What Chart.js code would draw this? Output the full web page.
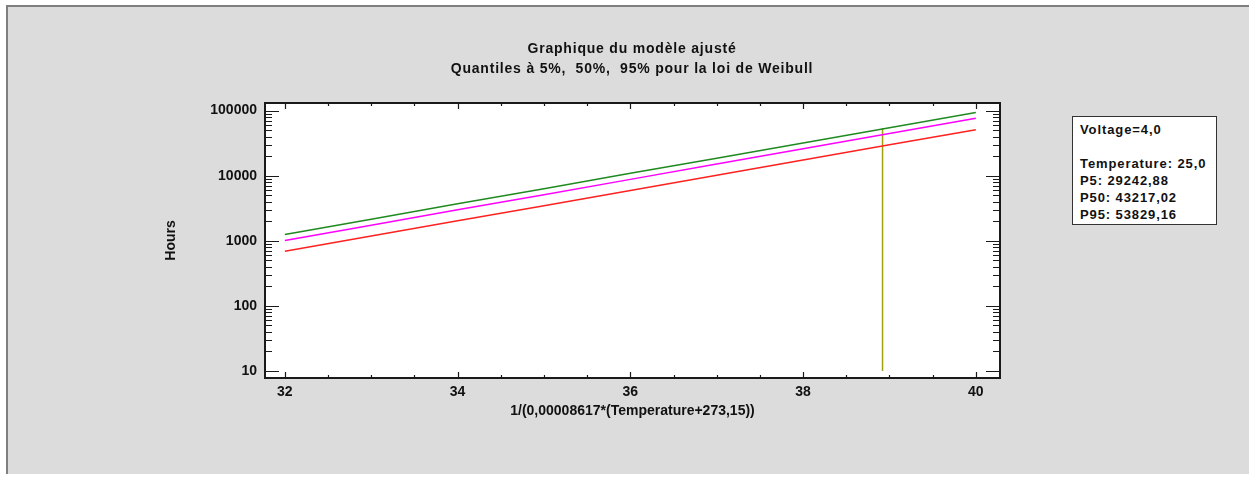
<!DOCTYPE html>
<html>
<head>
<meta charset="utf-8">
<title>Graphique du modèle ajusté</title>
<script src="https://cdn.jsdelivr.net/npm/chart.js"></script>
<style>
	body { margin: 0; background: #fff; width: 1249px; height: 477px; overflow: hidden; font-family: "Liberation Sans", Arial, sans-serif; color: #111; }
	#panel { position: absolute; left: 6px; top: 5px; width: 1243px; height: 469px; background: #dcdcdc; border-top: 2px solid #7f7f7f; border-left: 2px solid #7f7f7f; box-sizing: border-box; }
	#chartc { position: absolute; left: 0; top: 0; }
	.title { position: absolute; left: 332px; width: 600px; text-align: center; font-weight: bold; font-size: 14px; letter-spacing: 0.8px; line-height: 20px; }
	#info { position: absolute; left: 1072px; top: 116px; width: 145px; height: 109px; box-sizing: border-box; border: 1px solid #333; background: #fff; font-weight: bold; font-size: 13px; letter-spacing: 0.9px; }
	#info div { position: absolute; left: 7px; line-height: 17px; white-space: nowrap; }
</style>
</head>
<body>
<div id="panel"></div>
<canvas id="chartc" width="1249" height="477"></canvas>
<div class="title" style="top:38px">Graphique du modèle ajusté</div>
<div class="title" style="top:58px">Quantiles à 5%,&nbsp; 50%,&nbsp; 95% pour la loi de Weibull</div>
<div id="info">
	<div style="top:4px">Voltage=4,0</div>
	<div style="top:38px">Temperature: 25,0</div>
	<div style="top:55px">P5: 29242,88</div>
	<div style="top:72px">P50: 43217,02</div>
	<div style="top:89px">P95: 53829,16</div>
</div>
<script>
// Data

var xValues = [32, 33, 34, 35, 36, 37, 38, 39, 40];
var p95Values = [1250, 2150, 3700, 6300, 10900, 18600, 31900, 54700, 93500];
var p50Values = [1010, 1740, 2990, 5120, 8790, 15100, 25900, 44500, 76400];
var p5Values = [690, 1190, 2030, 3470, 5940, 10200, 17400, 29850, 51000];

var xTickValues = [32, 34, 36, 38, 40];
var yTickValues = [10, 100, 1000, 10000, 100000];

// vertical marker at Temperature = 25,0
var markerX = 38.92;
var markerY = [10, 53829.16];

function points(xs, ys) {
	return xs.map(function(v, i) { return {x: v, y: ys[i]}; });
}

// white plot area, frame and inward ticks
var frameTicks = {
	id: 'frameTicks',
	beforeDraw: function(chart) {
		var a = chart.chartArea, ctx = chart.ctx;
		ctx.save();
		ctx.fillStyle = '#fff';
		ctx.fillRect(a.left, a.top, a.right - a.left, a.bottom - a.top);
		ctx.restore();
	},
	afterDraw: function(chart) {
		var a = chart.chartArea, ctx = chart.ctx;
		var x = chart.scales.x, y = chart.scales.y;
		ctx.save();
		ctx.strokeStyle = '#1a1a1a';
		ctx.lineWidth = 1.2;
		ctx.beginPath();
		// x ticks, major every 2, minor every 0.5
		for (var v = xTickValues[0]; v <= xTickValues[xTickValues.length - 1]; v += 0.5) {
			var px = Math.round(x.getPixelForValue(v)) + 0.5;
			var len = (v % 2 === 0) ? 6 : 3;
			ctx.moveTo(px, a.bottom); ctx.lineTo(px, a.bottom - len);
			ctx.moveTo(px, a.top); ctx.lineTo(px, a.top + len);
		}
		// y ticks, decades and 2..9 minors
		yTickValues.forEach(function(d, i) {
			var py = Math.round(y.getPixelForValue(d)) + 0.5;
			ctx.moveTo(a.left, py); ctx.lineTo(a.left + 14, py);
			ctx.moveTo(a.right, py); ctx.lineTo(a.right - 14, py);
			if (i < yTickValues.length - 1) {
				for (var m = 2; m <= 9; m++) {
					var q = Math.round(y.getPixelForValue(m * d)) + 0.5;
					ctx.moveTo(a.left, q); ctx.lineTo(a.left + 7, q);
					ctx.moveTo(a.right, q); ctx.lineTo(a.right - 7, q);
				}
			}
		});
		ctx.stroke();
		ctx.lineWidth = 2;
		ctx.strokeRect(a.left, a.top, a.right - a.left, a.bottom - a.top);
		ctx.restore();
	}
};

Chart.defaults.font.family = '"Liberation Sans", Arial, sans-serif';
Chart.defaults.color = '#111';

new Chart("chartc", {
	type: "line",
	data: {
		datasets: [{
			data: points(xValues, p95Values),
			borderColor: "#1f8a1f",
			borderWidth: 1.5,
			pointRadius: 0
		},
		{
			data: points(xValues, p50Values),
			borderColor: "#ff00ff",
			borderWidth: 1.5,
			pointRadius: 0
		},
		{
			data: points(xValues, p5Values),
			borderColor: "#ff2020",
			borderWidth: 1.5,
			pointRadius: 0
		},
		{
			data: [{x: markerX, y: markerY[0]}, {x: markerX, y: markerY[1]}],
			borderColor: "#a0a010",
			borderWidth: 1.5,
			pointRadius: 0
		}]
	},
	options: {
		responsive: false,
		animation: false,
		devicePixelRatio: 1,
		layout: {padding: {left: 160, top: 103, right: 249, bottom: 54}},
		plugins: {legend: {display: false}, tooltip: {enabled: false}},
		scales: {
			x: {
				type: 'linear',
				min: 31.77,
				max: 40.28,
				afterBuildTicks: function(s) { s.ticks = xTickValues.map(function(v) { return {value: v}; }); },
				afterFit: function(s) { s.height = 45; },
				grid: {display: false, drawTicks: false},
				border: {display: false},
				ticks: {font: {size: 14, weight: 'bold'}, padding: 6, maxRotation: 0},
				title: {display: true, text: '1/(0,00008617*(Temperature+273,15))', font: {size: 14, weight: 'bold'}, padding: {top: 4, bottom: 3}}
			},
			y: {
				type: 'logarithmic',
				min: 7.8,
				max: 131000,
				afterBuildTicks: function(s) { s.ticks = yTickValues.map(function(v) { return {value: v}; }); },
				afterFit: function(s) { s.width = 105; },
				grid: {display: false, drawTicks: false},
				border: {display: false},
				ticks: {font: {size: 14, weight: 'bold'}, padding: 8, callback: function(v) { return String(v); }},
				title: {display: true, text: 'Hours', font: {size: 14, weight: 'bold'}, padding: {top: 3, bottom: 4}}
			}
		}
	},
	plugins: [frameTicks]
});
</script>
</body>
</html>
